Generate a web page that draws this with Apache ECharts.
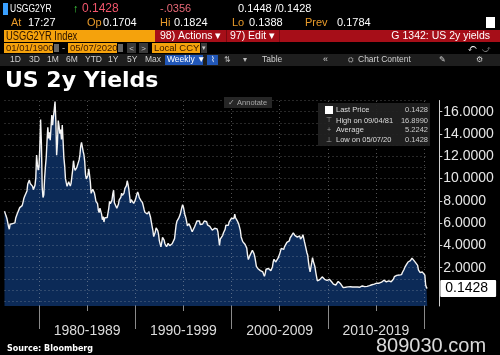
<!DOCTYPE html>
<html><head><meta charset="utf-8">
<script src="https://cdn.jsdelivr.net/npm/echarts@6/dist/echarts.min.js"></script>
<style>html,body{margin:0;padding:0;background:#000;}#c{width:500px;height:355px;}</style>
</head><body><div id="c"></div>
<script>
// Monthly US 2y yields, June 1976 .. May 2020
const startYear = 1976, startMonth = 6;
const yields1970s = [7.06,6.85,6.63,6.42,6.07,5.70,5.45,
 5.90,6.02,6.02,5.96,6.03,5.89,6.02,6.46,6.52,6.87,6.92,7.01,
 7.39,7.43,7.43,7.57,7.84,8.18,8.38,8.24,8.53,8.89,9.51,9.57,
 9.86,9.56,9.57,9.63,9.30,9.00,9.10,9.39,10.03,12.10,11.29,10.76];
const yields1980s = [11.03,12.79,15.30,13.11,9.20,8.30,8.54,10.01,11.06,11.89,13.34,14.60,
 13.60,14.15,13.44,14.60,15.70,14.79,15.56,16.17,16.899,15.14,12.10,13.17,
 15.20,14.71,14.03,14.40,13.50,14.80,13.39,11.90,11.14,9.99,9.63,9.30,
 9.46,9.72,9.67,9.32,9.57,10.18,10.78,11.60,11.02,10.73,10.89,10.97,
 10.83,11.03,11.67,12.12,12.90,13.25,13.12,12.45,12.14,11.51,10.34,9.96,
 9.83,10.30,10.86,10.32,9.68,8.67,8.76,9.04,9.03,8.73,8.38,7.96,
 7.96,7.74,7.15,6.94,7.34,7.32,6.81,6.30,6.58,6.10,6.48,6.42,
 6.43,6.50,6.51,7.33,7.95,7.74,7.75,8.06,8.62,8.95,7.82,7.98,
 7.72,7.34,7.41,7.69,8.08,8.07,8.31,8.68,8.48,8.33,8.70,9.09,
 9.22,9.36,9.80,9.47,9.04,8.40,7.82,8.11,8.22,7.94,7.76,7.72];
const yields1990s = [8.06,8.32,8.59,8.79,8.61,8.28,8.11,8.05,8.00,7.83,7.54,7.23,
 6.98,6.82,6.97,6.82,6.85,7.04,7.02,6.53,6.11,5.70,5.32,4.79,
 4.77,5.20,5.57,5.40,5.32,5.01,4.43,4.15,3.88,4.28,4.73,4.76,
 4.48,4.15,4.01,3.88,4.02,4.18,4.14,3.98,3.86,3.89,4.15,4.19,
 4.21,4.61,5.26,5.86,6.18,6.19,6.42,6.48,6.77,7.08,7.39,7.66,
 7.45,7.08,6.70,6.50,6.15,5.76,5.75,5.94,5.82,5.62,5.41,5.22,
 5.05,5.15,5.68,5.86,6.00,6.20,6.21,6.09,6.19,5.86,5.70,5.81,
 5.92,5.83,6.19,6.33,6.19,6.12,5.85,5.94,5.83,5.71,5.71,5.72,
 5.36,5.42,5.49,5.54,5.55,5.47,5.48,5.23,4.62,4.00,4.57,4.48,
 4.60,4.91,5.14,5.08,5.44,5.81,5.68,5.84,5.80,6.10,5.97,6.19];
const yields2000s = [6.44,6.61,6.53,6.40,6.81,6.48,6.34,6.23,6.08,5.91,5.88,5.35,
 4.76,4.66,4.34,4.23,4.26,4.08,4.04,3.76,3.12,2.73,2.78,3.11,
 3.03,3.02,3.56,3.42,3.26,2.99,2.56,2.13,2.00,1.91,1.92,1.84,
 1.74,1.63,1.57,1.62,1.42,1.23,1.47,1.86,1.71,1.75,1.93,1.91,
 1.76,1.74,1.58,2.07,2.53,2.76,2.64,2.51,2.53,2.58,2.85,3.01,
 3.22,3.38,3.73,3.65,3.64,3.64,3.87,4.04,3.95,4.27,4.42,4.40,
 4.40,4.67,4.73,4.89,4.97,5.12,5.12,4.90,4.77,4.80,4.74,4.67,
 4.88,4.85,4.57,4.67,4.77,4.96,4.82,4.31,4.01,3.97,3.34,3.12,
 2.48,1.97,1.62,2.05,2.45,2.90,2.57,2.42,2.08,1.61,1.21,0.82,
 0.81,0.98,0.93,0.93,0.92,1.18,1.02,1.12,0.96,0.95,0.80,0.87];
const yields2010s = [0.93,0.86,0.96,1.06,0.83,0.72,0.62,0.52,0.48,0.38,0.45,0.62,
 0.61,0.77,0.70,0.73,0.56,0.41,0.41,0.23,0.21,0.28,0.25,0.26,
 0.24,0.28,0.34,0.29,0.29,0.29,0.25,0.27,0.26,0.28,0.27,0.26,
 0.27,0.27,0.26,0.23,0.25,0.33,0.34,0.36,0.40,0.34,0.30,0.34,
 0.39,0.33,0.40,0.42,0.39,0.45,0.51,0.47,0.57,0.45,0.53,0.64,
 0.55,0.62,0.64,0.54,0.61,0.69,0.67,0.70,0.71,0.64,0.88,0.98,
 0.90,0.73,0.88,0.77,0.82,0.73,0.67,0.74,0.77,0.84,0.98,1.20,
 1.21,1.20,1.31,1.24,1.30,1.34,1.37,1.34,1.38,1.57,1.70,1.84,
 2.03,2.18,2.28,2.38,2.51,2.53,2.61,2.64,2.77,2.86,2.86,2.68,
 2.54,2.50,2.41,2.34,2.21,1.81,1.84,1.57,1.65,1.55,1.61,1.61];
const yields2020s = [1.52,1.33,0.45,0.22,0.1428];

const yTickLabels = [2,4,6,8,10,12,14,16];
const hGridValues = [-1,0,1,2,3,4,5,6,7,8,9,10,11,12,13,14,15,16,17];
const vGridYears = [1980,1985,1990,1995,2000,2005,2010,2015,2020];
const decadeYears = [1980,1990,2000,2010,2020];
const halfDecadeYears = [1985,1995,2005,2015];
const decadeLabels = ['1980-1989','1990-1999','2000-2009','2010-2019'];
const lastPrice = 0.1428;
const legendNames = ['Last Price','High on 09/04/81','Average','Low on 05/07/20'];
const legendValues = ['0.1428','16.8990','5.2242','0.1428'];

const allYields = [].concat(yields1970s, yields1980s, yields1990s, yields2000s, yields2010s, yields2020s);
const seriesData = allYields.map((v, i) => [startYear + (startMonth - 1 + i) / 12, v]);
const xMin = startYear + (startMonth - 1) / 12;
const xMax = seriesData[seriesData.length - 1][0] + 0.005;

const chart = echarts.init(document.getElementById('c'), null, {renderer: 'canvas'});
const SANS = '"Liberation Sans", Arial, sans-serif';
function T(x, y, text, fill, size, opts) {
  opts = opts || {};
  return {type: 'text', x: x, y: y, silent: true, z: 100, scaleX: opts.sx || 1,
    style: {text: text, fill: fill, font: (opts.bold ? 'bold ' : '') + size + 'px ' + (opts.family || SANS),
      textAlign: opts.align || 'left', textVerticalAlign: 'middle', align: opts.align || 'left', verticalAlign: 'middle'}};
}
function R(x, y, w, h, fill, z) {
  return {type: 'rect', silent: true, z: z || 99, shape: {x: x, y: y, width: w, height: h}, style: {fill: fill}};
}
const ORANGE = '#f5a20c', LAB = '#e89a2a', RED = '#a60e18';
const graphics = [
  // row 1
  R(3, 3, 5, 12, '#3aa0ff'),
  T(10, 9, 'USGG2YR', '#ffffff', 11.5, {sx: 0.74}),
  T(73, 9, '↑', '#3fcf3f', 11),
  T(82, 9, '0.1428', '#f2566c', 12),
  T(160, 9, '-.0356', '#e86a78', 11),
  T(238, 9, '0.1448 /0.1428', '#ffffff', 11),
  // row 2
  T(11, 23, 'At', LAB, 11), T(28, 23, '17:27', '#ffffff', 11),
  T(87, 23, 'Op', LAB, 11), T(103, 23, '0.1704', '#ffffff', 11),
  T(160, 23, 'Hi', LAB, 11), T(174, 23, '0.1824', '#ffffff', 11),
  T(232, 23, 'Lo', LAB, 11), T(249, 23, '0.1388', '#ffffff', 11),
  T(305, 23, 'Prev', LAB, 11), T(337, 23, '0.1784', '#ffffff', 11),
  R(486, 17, 9, 11, '#ffffff'),
  // row 3
  R(4, 30, 151, 12, ORANGE), T(6, 36.5, 'USGG2YR Index', '#2a1200', 12, {sx: 0.78}),
  R(155, 30, 345, 12, RED),
  T(160, 36.5, '98) Actions ▾', '#ffffff', 10.5),
  R(226, 30, 1, 12, '#7a0810'),
  T(230, 36.5, '97) Edit ▾', '#ffffff', 10.5),
  R(279, 30, 1, 12, '#7a0810'),
  T(490, 36.5, 'G 1342: US 2y yields', '#ffffff', 10.5, {align: 'right'}),
  // row 4
  R(4, 43, 49, 10, ORANGE), T(6, 48.5, '01/01/1900', '#3a1800', 9.5),
  R(54, 44, 5, 8, '#666'),
  T(62, 48.5, '-', '#cccccc', 9.5),
  R(68, 43, 49, 10, ORANGE), T(70, 48.5, '05/07/2020', '#3a1800', 9.5),
  R(118, 44, 5, 8, '#666'),
  R(127, 43, 9, 10, '#3a3a3a'), T(131.5, 48.5, '<', '#cccccc', 8, {align: 'center'}),
  R(139, 43, 9, 10, '#3a3a3a'), T(143.5, 48.5, '>', '#cccccc', 8, {align: 'center'}),
  R(152, 43, 48, 10, ORANGE), T(154, 48.5, 'Local CCY', '#3a1800', 9.5),
  R(201, 43, 6, 10, '#3a3a3a'), T(204, 48.5, '▾', '#cccccc', 7, {align: 'center'}),
  T(468, 48.5, '⤺', '#ffffff', 8), T(482, 48.5, '⤻', '#777777', 8),
  // row 5
  R(0, 54, 500, 12, '#1e1e1e', 98),
  T(10, 60, '1D', '#cfcfcf', 8.5), T(29, 60, '3D', '#cfcfcf', 8.5), T(47, 60, '1M', '#cfcfcf', 8.5),
  T(66, 60, '6M', '#cfcfcf', 8.5), T(85, 60, 'YTD', '#cfcfcf', 8.5), T(108, 60, '1Y', '#cfcfcf', 8.5),
  T(127, 60, '5Y', '#cfcfcf', 8.5), T(145, 60, 'Max', '#cfcfcf', 8.5),
  R(165, 55, 38, 10, '#2157b8'), T(167, 60, 'Weekly ▼', '#ffffff', 8.5),
  R(207, 55, 11, 10, '#2157b8'), T(212.5, 60, '⌇', '#ffffff', 8, {align: 'center'}),
  T(224, 60, '⇅', '#bbbbbb', 8), T(243, 60, '▾', '#bbbbbb', 8),
  T(262, 60, 'Table', '#cfcfcf', 8.5),
  T(323, 60, '«', '#cfcfcf', 9),
  T(348, 60, '⛭', '#bbbbbb', 7), T(358, 60, 'Chart Content', '#cfcfcf', 8.5),
  T(439, 60, '✎', '#cfcfcf', 8), T(476, 60, '⚙', '#cfcfcf', 8),
  // title
  T(5, 81, 'US 2y Yields', '#ffffff', 22, {bold: true, family: '"DejaVu Sans", Verdana, sans-serif'}),
  // annotate button
  R(224, 97, 48, 11, '#262626'),
  T(228, 102.5, '✓ Annotate', '#a8a8a8', 7.5),
  // legend box
  R(318, 103, 112, 43, 'rgba(34,34,34,0.92)'),
  R(325, 106, 8, 8, '#ffffff', 101),
  T(329, 120.5, '⊤', '#999999', 7, {align: 'center'}),
  T(329, 130, '+', '#999999', 7, {align: 'center'}),
  T(329, 140, '⊥', '#999999', 7, {align: 'center'}),
  // bottom
  T(7, 349, 'Source: Bloomberg', '#ffffff', 8, {bold: true, family: '"DejaVu Sans", Verdana, sans-serif'}),
  T(376, 346, '809030.com', 'rgba(235,235,235,0.92)', 20)
];
const legendYs = [110, 120.5, 130, 140];
legendNames.forEach((n, i) => {
  graphics.push(T(336, legendYs[i], n, '#dddddd', 7.5));
  graphics.push(T(428, legendYs[i], legendValues[i], '#cccccc', 7.5, {align: 'right'}));
});

const gridTop = 100.5, gridBottomPx = 306;
const option = {
  backgroundColor: '#000000',
  animation: false,
  grid: {left: 4.5, right: 72.7, top: gridTop, bottom: 355 - gridBottomPx, containLabel: false},
  xAxis: [{
    type: 'value', min: xMin, max: xMax,
    axisLine: {show: false}, splitLine: {show: false},
    axisTick: {show: true, customValues: decadeYears, length: 39, lineStyle: {color: '#8a8a8a', width: 1}},
    axisLabel: {show: true, customValues: halfDecadeYears, margin: 18, color: '#dcdcdc', fontSize: 14, fontFamily: SANS,
      formatter: v => decadeLabels[halfDecadeYears.indexOf(Math.round(v))] || ''}
  }, {
    type: 'value', min: xMin, max: xMax, position: 'bottom',
    axisLine: {show: false}, splitLine: {show: false}, axisLabel: {show: false},
    axisTick: {show: true, customValues: halfDecadeYears, length: 5, lineStyle: {color: '#8a8a8a'}}
  }],
  yAxis: {
    type: 'value', position: 'right', offset: 12, min: -1.435, max: 17,
    splitLine: {show: false},
    axisLine: {show: true, lineStyle: {color: '#d0d0d0', width: 1}},
    axisTick: {show: true, customValues: yTickLabels, length: 3, lineStyle: {color: '#d0d0d0'}},
    axisLabel: {show: true, customValues: yTickLabels, margin: 4, color: '#e6e6e6', fontSize: 14, fontFamily: SANS,
      formatter: v => v.toFixed(4)}
  },
  series: [{
    type: 'line', data: seriesData, showSymbol: false, symbol: 'none',
    lineStyle: {color: '#f4f4f4', width: 1.4},
    areaStyle: {color: '#0c2a57', opacity: 1, origin: 'start'},
    markLine: {
      silent: true, symbol: 'none', animation: false,
      label: {show: false},
      lineStyle: {type: [1, 3], color: 'rgba(210,210,210,0.38)', width: 1},
      data: hGridValues.map(v => ({yAxis: v})).concat(vGridYears.map(v => ({xAxis: v}))).concat([{
        yAxis: lastPrice, lineStyle: {color: 'rgba(0,0,0,0)', width: 0},
        label: {show: true, position: 'end', distance: 13, formatter: lastPrice.toFixed(4),
          color: '#000', backgroundColor: '#ffffff', fontSize: 14, fontFamily: SANS, padding: [2, 8, 1, 5], borderRadius: 1}
      }])
    }
  }],
  graphic: {elements: graphics}
};
chart.setOption(option);
</script></body></html>
